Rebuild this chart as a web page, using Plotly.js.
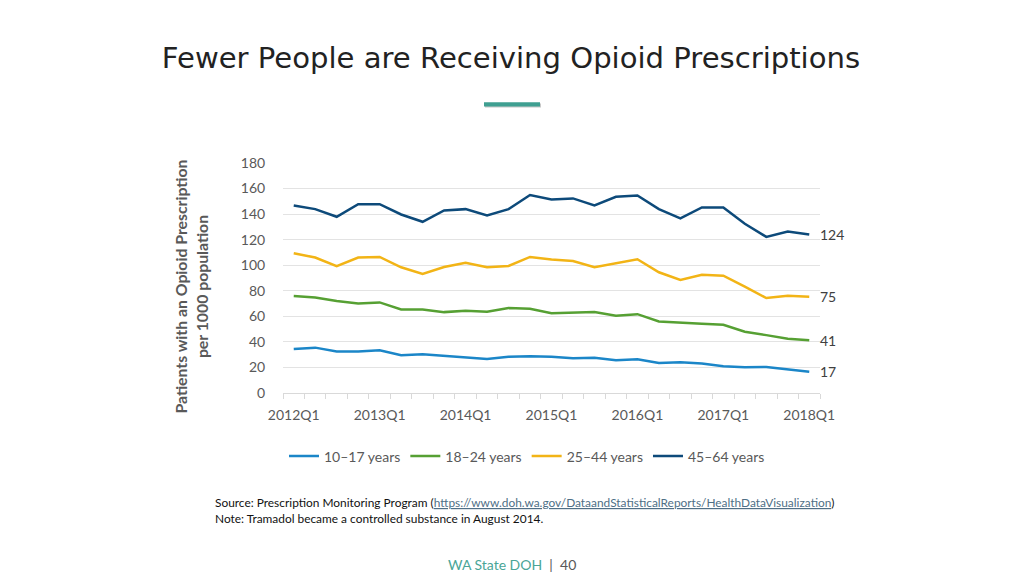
<!DOCTYPE html>
<html>
<head>
<meta charset="utf-8">
<script src="https://cdn.plot.ly/plotly-3.0.1.min.js"></script>
<style>html,body{margin:0;padding:0;background:#fff;}#chart{width:1024px;height:576px;}</style>
</head>
<body>
<div id="chart"></div>
<script>
const quarters = ["2012Q1","2012Q2","2012Q3","2012Q4","2013Q1","2013Q2","2013Q3","2013Q4",
  "2014Q1","2014Q2","2014Q3","2014Q4","2015Q1","2015Q2","2015Q3","2015Q4",
  "2016Q1","2016Q2","2016Q3","2016Q4","2017Q1","2017Q2","2017Q3","2017Q4","2018Q1"];
const age10to17 = [34.5,35.5,32.4,32.4,33.5,29.6,30.4,29.0,28.0,26.7,28.3,28.8,28.3,27.2,27.5,25.6,26.4,23.5,24.1,23.0,20.9,20.1,20.4,18.3,16.7];
const age18to24 = [75.9,74.8,72.0,70.1,70.9,65.4,65.4,63.3,64.4,63.6,66.5,65.9,62.5,63.1,63.3,60.4,61.7,56.0,54.9,54.2,53.4,47.9,45.3,42.4,41.3];
const age25to44 = [109.4,106.0,99.2,106.0,106.5,98.4,93.1,98.6,102.0,98.4,99.4,106.5,104.5,103.3,98.4,101.5,104.7,94.5,88.4,92.6,91.8,83.2,74.3,76.1,75.4];
const age45to64 = [146.8,143.9,137.9,147.8,147.8,139.7,134.0,142.9,143.9,138.9,143.9,154.9,151.4,152.3,146.8,153.6,154.6,143.9,136.6,145.2,145.2,132.4,122.2,126.4,124.0];
const seriesNames = ["10\u201317 years","18\u201324 years","25\u201344 years","45\u201364 years"];
const seriesColors = ["#1b86c8","#56a033","#f2b416","#0d4a7a"];
const endLabels = ["17","41","75","124"];
const seriesValues = [age10to17, age18to24, age25to44, age45to64];

const traces = seriesValues.map((vals, k) => ({
  type: "scatter", mode: "lines", x: quarters, y: vals, name: seriesNames[k],
  line: {color: seriesColors[k], width: 2.5}, hoverinfo: "skip"
}));

const lastQ = quarters[quarters.length - 1];
const annotations = seriesValues.map((vals, k) => ({
  x: lastQ, y: vals[vals.length - 1], xref: "x", yref: "y", text: endLabels[k],
  showarrow: false, xanchor: "left", xshift: 9,
  font: {family: "Lato, sans-serif", size: 14, color: "#404040"}
}));

annotations.push({
  xref: "paper", yref: "paper", x: -0.1705, y: 0.465, textangle: -90,
  text: "<b>Patients with an Opioid Prescription<br>per 1000 population</b>",
  showarrow: false, xanchor: "center", yanchor: "middle",
  font: {family: "Lato, sans-serif", size: 15.8, color: "#595959"}
});
annotations.push({
  xref: "paper", yref: "paper", x: -0.1304, y: -0.4765, xanchor: "left", yanchor: "middle",
  showarrow: false, align: "left",
  text: "Source: Prescription Monitoring Program (<span style=\"color:#4f6f86\"><u>https://www.doh.wa.gov/DataandStatisticalReports/HealthDataVisualization</u></span>)",
  font: {family: "Lato, sans-serif", size: 11.9, color: "#111"}
});
annotations.push({
  xref: "paper", yref: "paper", x: -0.1304, y: -0.546, xanchor: "left", yanchor: "middle",
  showarrow: false, align: "left",
  text: "Note: Tramadol became a controlled substance in August 2014.",
  font: {family: "Lato, sans-serif", size: 11.9, color: "#111"}
});
annotations.push({
  xref: "paper", yref: "paper", x: (512 - 283) / 537, y: (392.7 - 564) / 229.4,
  xanchor: "center", yanchor: "middle", showarrow: false,
  text: "<span style=\"color:#4aa597\">WA State DOH</span><span style=\"color:#595959\">  |  40</span>",
  font: {family: "Lato, sans-serif", size: 14}
});

const layout = {
  width: 1024, height: 576,
  paper_bgcolor: "#ffffff", plot_bgcolor: "#ffffff",
  margin: {l: 283, r: 204, t: 163, b: 183.3, pad: 0},
  title: {
    text: "Fewer People are Receiving Opioid Prescriptions",
    x: 0.499, xanchor: "center", y: 1 - 58 / 576, yanchor: "middle",
    font: {family: "DejaVu Sans, sans-serif", size: 29.1, color: "#222222"}
  },
  showlegend: true,
  legend: {
    orientation: "h", x: (527 - 283) / 537, xanchor: "center", y: -0.276, yanchor: "middle",
    font: {family: "Lato, sans-serif", size: 14, color: "#595959"},
    bgcolor: "rgba(0,0,0,0)", itemwidth: 30, tracegroupgap: 0
  },
  xaxis: {
    type: "category", range: [-0.5, quarters.length - 0.5], tickmode: "array", tickvals: quarters,
    ticktext: quarters.map((q, i) => (i % 4 === 0 ? q : "")),
    tickson: "boundaries", ticks: "outside", ticklen: 5, tickcolor: "#d9d9d9",
    ticklabelstandoff: 9,
    showline: true, linecolor: "#d9d9d9", linewidth: 1, showgrid: false, zeroline: false,
    tickangle: 0,
    tickfont: {family: "Lato, sans-serif", size: 14, color: "#595959"}
  },
  yaxis: {
    range: [0, 180], dtick: 20, tick0: 0, showgrid: true, gridcolor: "#e3e3e3", gridwidth: 1,
    zeroline: false, showline: false, ticks: "outside", ticklen: 14, tickcolor: "rgba(0,0,0,0)",
    tickfont: {family: "Lato, sans-serif", size: 14, color: "#595959"}
  },
  shapes: [
    {type: "rect", xref: "paper", yref: "paper",
     x0: (485 - 283) / 537, x1: (541 - 283) / 537, y0: (392.7 - 108) / 229.4, y1: (392.7 - 104) / 229.4,
     fillcolor: "#c8c8c8", line: {width: 0}},
    {type: "rect", xref: "paper", yref: "paper",
     x0: (484 - 283) / 537, x1: (540 - 283) / 537, y0: (392.7 - 107) / 229.4, y1: (392.7 - 102.7) / 229.4,
     fillcolor: "#3f9f91", line: {width: 0}}
  ],
  annotations: annotations
};

Plotly.newPlot("chart", traces, layout, {staticPlot: true, displayModeBar: false});
</script>
</body>
</html>
